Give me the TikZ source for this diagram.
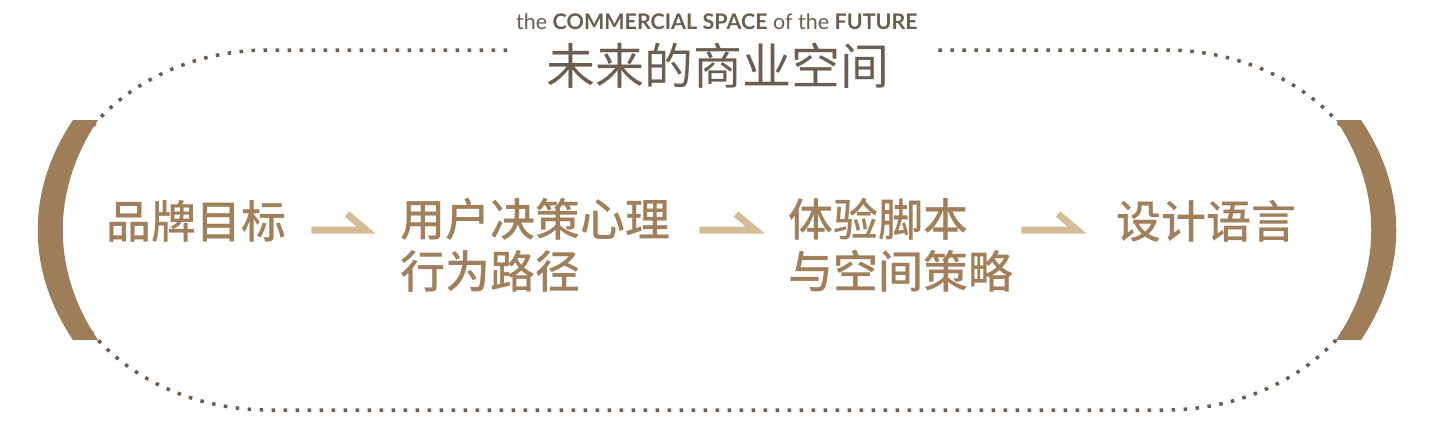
\documentclass[tikz,border=0pt]{standalone}
\usepackage{fontspec}
\usepackage{xcolor}
\usetikzlibrary{positioning,calc}
\setmainfont{Lato}
\newfontfamily\cjk{Noto Sans CJK SC}
\newfontfamily\cjkmed{Noto Sans CJK SC Medium}
\definecolor{dotgray}{RGB}{105,92,80}
\definecolor{titlegray}{RGB}{107,93,79}
\definecolor{bracketbrown}{RGB}{158,125,89}
\definecolor{textbrown}{RGB}{160,127,90}
\definecolor{arrowtan}{RGB}{212,188,150}
\tikzset{
  dotline/.style={draw=dotgray,line width=3.5pt,dash pattern=on 3.5pt off 8.5pt},
  bracketfill/.style={fill=bracketbrown,draw=none},
  steptext/.style={inner sep=0pt,anchor=north west,align=left,text=textbrown,
    font=\fontsize{45}{52}\selectfont\cjkmed},
  flowarrow/.style={draw=arrowtan,line width=7pt,line join=miter},
}
\begin{document}
\begin{tikzpicture}[x=1pt,y=-1pt]
\useasboundingbox (0,0) rectangle (1435,424);
% dotted outline
\draw[dotline] (507,50) -- (269,50)
  arc[start angle=90,end angle=270,x radius=216pt,y radius=180pt] -- (1165,410)
  arc[start angle=-90,end angle=90,x radius=216pt,y radius=180pt] -- (930,50);
% brackets
\fill[bracketfill] (73,120) .. controls (26,190) and (26,270) .. (73,340)
  -- (98,340) .. controls (51,270) and (51,190) .. (98,120) -- cycle; % left
\fill[bracketfill] (1361,120) .. controls (1408,190) and (1408,270) .. (1361,340)
  -- (1336,340) .. controls (1383,270) and (1383,190) .. (1336,120) -- cycle; % right
% titles
\node[inner sep=0pt,text=titlegray,font=\fontsize{21.5}{24}\selectfont] (entitle) at (717,22)
  {the \textbf{COMMERCIAL SPACE} of the \textbf{FUTURE}};
\node[inner sep=0pt,text=titlegray,font=\fontsize{49}{56}\selectfont\cjk] (cntitle) at (718,66)
  {未来的商业空间};
% steps
\node[steptext] (brand) at (106,200) {品牌目标};
\node[steptext] (user) at (400,198) {用户决策心理\\行为路径};
\node[steptext] (script) at (788,198) {体验脚本\\与空间策略};
\node[steptext] (design) at (1116,200) {设计语言};
% arrows
\coordinate (arrowrow) at (0,230);
\draw[flowarrow] ($(brand.east |- arrowrow)+(25,0)$) -- ($(user.west |- arrowrow)+(-34,0)$) -- ++(-19,-16);
\draw[flowarrow] ($(user.east |- arrowrow)+(29,0)$) -- ($(script.west |- arrowrow)+(-33,0)$) -- ++(-19,-16);
\draw[flowarrow] ($(script.east |- arrowrow)+(8,0)$) -- ($(design.west |- arrowrow)+(-39,0)$) -- ++(-19,-16);
\end{tikzpicture}
\end{document}
